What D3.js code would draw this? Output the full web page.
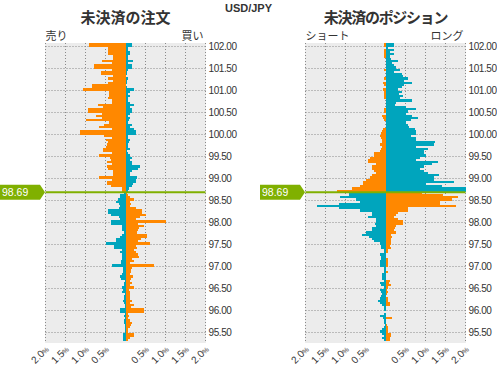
<!DOCTYPE html>
<html><head><meta charset="utf-8">
<script src="https://cdn.jsdelivr.net/npm/d3@7"></script>
<style>
body{margin:0;background:#fff;}
svg{display:block;font-family:"Liberation Sans",Arial,sans-serif;}
</style></head><body>
<svg id="chart" width="497" height="365"></svg>
<script>
const pairName = "USD/JPY";
const currentPrice = 98.69;
const bucketSize = 0.05;
const priceBuckets = [
 102.05,102.00,101.95,101.90,101.85,101.80,101.75,101.70,101.65,101.60,
 101.55,101.50,101.45,101.40,101.35,101.30,101.25,101.20,101.15,101.10,
 101.05,101.00,100.95,100.90,100.85,100.80,100.75,100.70,100.65,100.60,
 100.55,100.50,100.45,100.40,100.35,100.30,100.25,100.20,100.15,100.10,
 100.05,100.00,99.95,99.90,99.85,99.80,99.75,99.70,99.65,99.60,
 99.55,99.50,99.45,99.40,99.35,99.30,99.25,99.20,99.15,99.10,
 99.05,99.00,98.95,98.90,98.85,98.80,98.75,98.70,98.65,98.60,
 98.55,98.50,98.45,98.40,98.35,98.30,98.25,98.20,98.15,98.10,
 98.05,98.00,97.95,97.90,97.85,97.80,97.75,97.70,97.65,97.60,
 97.55,97.50,97.45,97.40,97.35,97.30,97.25,97.20,97.15,97.10,
 97.05,97.00,96.95,96.90,96.85,96.80,96.75,96.70,96.65,96.60,
 96.55,96.50,96.45,96.40,96.35,96.30,96.25,96.20,96.15,96.10,
 96.05,96.00,95.95,95.90,95.85,95.80,95.75,95.70,95.65,95.60,
 95.55,95.50,95.45,95.40,95.35,95.30];
// 未決済の注文 : 売り (left)
const orderSell = [
 0.91,0.91,0.43,0.43,0.43,0.43,0.31,0.31,0.58,0.33,
 0.78,0.78,0.33,0.61,0.61,0.32,0.43,0.32,0.43,0.83,
 0.83,1.06,0.41,0.41,0.41,0.45,0.35,0.35,0.68,0.57,
 0.93,0.93,0.58,0.73,0.58,1.00,0.42,0.53,0.66,0.33,
 1.13,1.13,0.53,0.33,0.48,0.45,0.46,0.50,0.56,0.56,
 0.33,0.66,0.38,0.36,0.47,0.33,0.46,0.45,0.31,0.31,
 0.31,0.66,0.35,0.46,0.46,0.36,0.08,0.08,0.05,0.13,
 0.13,0.20,0.23,0.17,0.13,0.17,0.43,0.43,0.37,0.17,
 0.13,0.36,0.36,0.10,0.08,0.10,0.05,0.08,0.13,0.23,
 0.25,0.48,0.30,0.30,0.10,0.15,0.08,0.08,0.10,0.11,
 0.12,0.33,0.07,0.06,0.06,0.08,0.15,0.12,0.02,0.03,
 0.04,0.08,0.07,0.10,0.02,0.03,0.03,0.06,0.05,0.02,
 0.02,0.13,0.13,0.02,0.04,0.02,0.04,0.04,0.02,0.02,
 0.02,0.02,0.07,0.06,0.06,0.06];
// 未決済の注文 : 買い (right)
const orderBuy = [
 0.17,0.17,0.06,0.05,0.12,0.12,0.07,0.05,0.19,0.07,
 0.17,0.15,0.05,0.03,0.03,0.02,0.07,0.03,0.04,0.02,
 0.04,0.22,0.12,0.07,0.12,0.05,0.07,0.10,0.22,0.10,
 0.15,0.15,0.10,0.07,0.10,0.08,0.05,0.17,0.12,0.20,
 0.27,0.27,0.07,0.05,0.10,0.08,0.07,0.07,0.10,0.04,
 0.07,0.12,0.15,0.10,0.17,0.15,0.37,0.30,0.17,0.12,
 0.10,0.29,0.27,0.27,0.18,0.15,0.08,0.05,0.03,0.07,
 0.10,0.22,0.10,0.13,0.10,0.25,0.42,0.42,0.52,0.35,
 0.27,1.00,0.30,0.46,0.33,0.32,0.28,0.54,0.54,0.38,
 0.30,0.61,0.25,0.29,0.22,0.25,0.32,0.33,0.17,0.22,
 0.10,0.72,0.15,0.13,0.13,0.12,0.18,0.13,0.12,0.15,
 0.10,0.22,0.08,0.12,0.10,0.12,0.10,0.17,0.12,0.22,
 0.13,0.47,0.45,0.05,0.08,0.05,0.12,0.17,0.13,0.10,
 0.07,0.05,0.22,0.20,0.10,0.07];
// 未決済のポジション : ショート (left)
const positionShort = [
 0.03,0.03,0.00,0.03,0.03,0.03,0.03,0.00,0.00,0.00,
 0.00,0.00,0.03,0.00,0.00,0.00,0.03,0.00,0.06,0.05,
 0.00,0.06,0.05,0.05,0.05,0.03,0.00,0.00,0.00,0.00,
 0.03,0.03,0.00,0.10,0.06,0.03,0.00,0.00,0.00,0.06,
 0.10,0.12,0.13,0.12,0.08,0.08,0.15,0.10,0.12,0.13,
 0.30,0.30,0.40,0.43,0.43,0.23,0.35,0.33,0.30,0.23,
 0.33,0.38,0.50,0.56,0.56,0.65,0.83,1.21,0.92,0.92,
 1.13,0.75,0.63,1.17,1.71,1.17,0.63,0.35,0.35,0.45,
 0.23,0.25,0.27,0.25,0.35,0.35,0.50,0.60,0.42,0.33,
 0.30,0.13,0.12,0.12,0.05,0.03,0.13,0.12,0.12,0.13,
 0.13,0.13,0.03,0.03,0.03,0.10,0.10,0.10,0.03,0.13,
 0.12,0.05,0.13,0.12,0.10,0.12,0.13,0.20,0.13,0.10,
 0.05,0.03,0.00,0.03,0.13,0.07,0.03,0.03,0.02,0.03,
 0.08,0.13,0.10,0.05,0.10,0.03];
// 未決済のポジション : ロング (right)
const positionLong = [
 0.22,0.22,0.07,0.22,0.12,0.22,0.12,0.13,0.32,0.15,
 0.22,0.25,0.37,0.22,0.40,0.43,0.57,0.45,0.67,0.45,
 0.42,0.30,0.42,0.33,0.43,0.35,0.67,0.27,0.23,0.52,
 0.77,0.57,0.52,0.65,0.82,0.63,0.52,0.55,0.58,0.73,
 0.77,0.77,0.63,0.77,0.75,1.23,1.22,0.77,1.07,0.97,
 0.97,1.02,0.87,0.75,1.32,1.17,0.95,0.85,0.97,1.05,
 1.33,1.20,1.22,1.72,1.02,1.42,2.05,2.05,0.90,1.43,
 1.82,1.65,1.37,1.35,1.75,0.55,0.55,0.30,0.27,0.22,
 0.32,0.43,0.43,0.27,0.23,0.22,0.25,0.13,0.17,0.13,
 0.13,0.13,0.12,0.13,0.07,0.05,0.02,0.02,0.07,0.07,
 0.07,0.07,0.00,0.02,0.07,0.02,0.02,0.02,0.12,0.08,
 0.13,0.05,0.03,0.05,0.03,0.02,0.05,0.07,0.12,0.12,
 0.02,0.00,0.00,0.00,0.02,0.17,0.00,0.00,0.03,0.05,
 0.07,0.05,0.13,0.13,0.12,0.10];
const priceTicks = [102.00,101.50,101.00,100.50,100.00,99.50,99.00,98.50,98.00,97.50,97.00,96.50,96.00,95.50];
const pctGrid = [-2,-1.5,-1,-0.5,0,0.5,1,1.5,2];
const pctTicks = [-2,-1.5,-1,-0.5,0.5,1,1.5,2];
const pctLabels = ["2.0","1.5","1.0","0.5","0.5","1.0","1.5","2.0"];
const panels = [
  {title:"未決済の注文", leftLabel:"売り", rightLabel:"買い", left:orderSell, right:orderBuy, x0:45.5, tagX:0, ls:0},
  {title:"未決済のポジション", leftLabel:"ショート", rightLabel:"ロング", left:positionShort, right:positionLong, x0:305.5, tagX:260, ls:-1.3}
];
const C = {orange:"#ff8800", teal:"#00a5bd", green:"#80b000", bg:"#ececec", grid:"#8a8a8a", text:"#333333"};
const JP = '"Noto Sans CJK JP","Noto Sans CJK SC",sans-serif';

const svg = d3.select("#chart");
const y = d3.scaleLinear().domain([102, 95.5]).range([46.5, 332.5]);
const yTop = Math.round(y(102.09)), yBot = Math.round(y(95.27));

svg.append("text").attr("x", 248.5).attr("y", 11.5).attr("text-anchor","middle")
  .attr("font-size", 11).attr("font-weight","bold").attr("fill", C.text).text(pairName);

panels.forEach((pn, k) => {
  const x = d3.scaleLinear().domain([-2, 2]).range([pn.x0, pn.x0 + 160]);
  const g = svg.append("g");
  const clipId = "clip" + k;
  svg.append("clipPath").attr("id", clipId).append("rect")
    .attr("x", x(-2) - 0.5).attr("y", yTop).attr("width", x(2) - x(-2) + 1).attr("height", yBot - yTop);

  g.append("rect").attr("x", x(-2) - 0.5).attr("y", yTop).attr("width", x(2) - x(-2) + 1)
    .attr("height", yBot - yTop).attr("fill", C.bg);

  g.append("g").selectAll("line").data(pctGrid).join("line")
    .attr("x1", d => x(d)).attr("x2", d => x(d)).attr("y1", yTop).attr("y2", yBot)
    .attr("stroke", C.grid).attr("stroke-dasharray", "1,2");
  g.append("g").selectAll("line").data(priceTicks).join("line")
    .attr("x1", x(-2)).attr("x2", x(2)).attr("y1", d => y(d)).attr("y2", d => y(d))
    .attr("stroke", C.grid).attr("stroke-dasharray", "1,2");

  const rows = priceBuckets.map((p, i) => ({p, l: pn.left[i], r: pn.right[i], above: p > currentPrice}));
  const bars = g.append("g").attr("clip-path", `url(#${clipId})`).attr("shape-rendering", "crispEdges");
  bars.selectAll("rect.l").data(rows).join("rect").attr("class","l")
    .attr("x", d => x(-d.l)).attr("width", d => x(0) - x(-d.l))
    .attr("y", d => y(d.p + bucketSize)).attr("height", d => y(d.p) - y(d.p + bucketSize))
    .attr("fill", d => d.above ? C.orange : C.teal);
  bars.selectAll("rect.r").data(rows).join("rect").attr("class","r")
    .attr("x", x(0)).attr("width", d => x(d.r) - x(0))
    .attr("y", d => y(d.p + bucketSize)).attr("height", d => y(d.p) - y(d.p + bucketSize))
    .attr("fill", d => d.above ? C.teal : C.orange);

  // price axis labels
  g.append("g").selectAll("text").data(priceTicks).join("text")
    .attr("x", x(2) + 3).attr("y", d => y(d) + 3.5)
    .attr("font-size", 10).attr("letter-spacing", -0.4).attr("fill", C.text).text(d => d.toFixed(2));

  // percent axis labels
  g.append("g").selectAll("text").data(pctTicks).join("text")
    .attr("transform", d => `translate(${x(d) + 4},${yBot + 7}) rotate(-45)`)
    .attr("text-anchor", "end").attr("font-size", 10).attr("fill", C.text)
    .each(function(d, i){
      const t = d3.select(this);
      t.append("tspan").text(pctLabels[i]);
      t.append("tspan").attr("font-size", 7).text("%");
    });

  // titles
  g.append("text").attr("x", x(0)).attr("y", 23).attr("text-anchor","middle")
    .attr("font-family", JP).attr("font-size", 15).attr("font-weight", "bold").attr("letter-spacing", pn.ls)
    .attr("fill", C.text).text(pn.title);
  g.append("text").attr("x", x(-2)).attr("y", 40).attr("font-family", JP)
    .attr("font-size", 11).attr("fill", C.text).text(pn.leftLabel);
  g.append("text").attr("x", x(2) - 2).attr("y", 40).attr("text-anchor","end").attr("font-family", JP)
    .attr("font-size", 11).attr("fill", C.text).text(pn.rightLabel);

  // current price line and tag
  const yc = y(currentPrice);
  g.append("line").attr("x1", x(-2)).attr("x2", x(2)).attr("y1", yc).attr("y2", yc)
    .attr("stroke", C.green).attr("stroke-width", 2);
  const tx = pn.tagX;
  g.append("path")
    .attr("d", `M${tx},${yc-7.5}H${tx+40}L${tx+45},${yc}L${tx+40},${yc+7.5}H${tx}Z`)
    .attr("fill", C.green);
  g.append("text").attr("x", tx + 2).attr("y", yc + 4).attr("font-size", 10.5)
    .attr("fill", "#ffffff").text(currentPrice.toFixed(2));
});
</script>
</body></html>
